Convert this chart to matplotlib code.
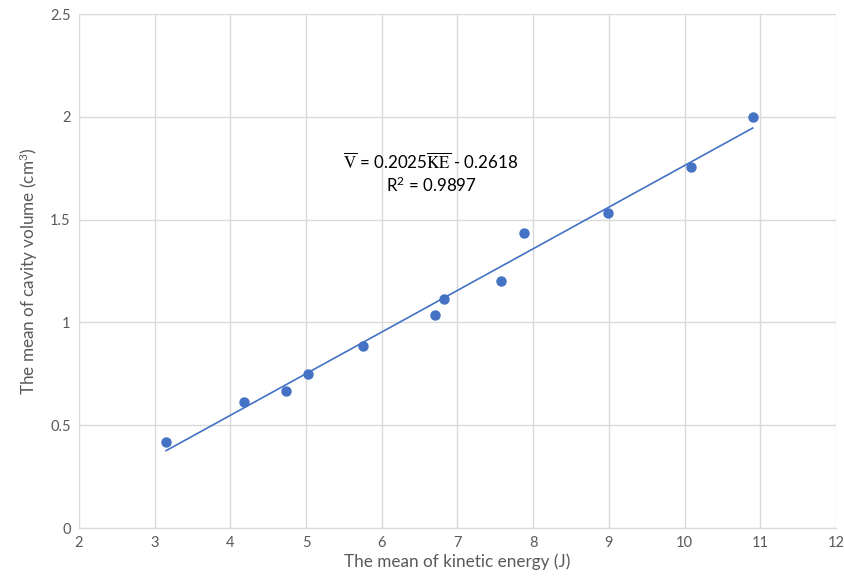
import numpy as np
import matplotlib
matplotlib.use('Agg')
import matplotlib.pyplot as plt

plt.rcParams['font.family'] = ['Lato', 'DejaVu Sans']
plt.rcParams['mathtext.fontset'] = 'stix'

# mean kinetic energy (J) and mean cavity volume (cm3)
ke = [3.15, 4.18, 4.73, 5.02, 5.75, 6.70, 6.82, 7.58, 7.88, 8.99, 10.08, 10.90]
vol = [0.418, 0.613, 0.666, 0.749, 0.885, 1.036, 1.114, 1.20, 1.435, 1.532, 1.756, 2.0]

slope = 0.2025
intercept = -0.2618
r2 = 0.9897

blue = '#4472C4'
grid = '#d9d9d9'
txt = '#595959'

fig = plt.figure(figsize=(8.44, 5.85), dpi=100)
ax = fig.add_axes([79/844, 1-528/585, (836-79)/844, (528-14)/585])

x_fit = np.array([min(ke), max(ke)])
ax.plot(x_fit, slope*x_fit + intercept, color=blue, lw=1.2, zorder=3)
ax.plot(ke, vol, 'o', color=blue, ms=6.5, zorder=4)

ax.set_xlim(2, 12)
ax.set_ylim(0, 2.5)
ax.set_xticks(range(2, 13))
ax.set_yticks([0, 0.5, 1, 1.5, 2, 2.5])
ax.set_yticklabels(['0', '0.5', '1', '1.5', '2', '2.5'])
ax.grid(True, color=grid, lw=1)
ax.set_axisbelow(True)
for s in ['top', 'right', 'left']:
    ax.spines[s].set_visible(False)
ax.spines['bottom'].set_color(grid)
ax.tick_params(length=0, colors=txt, labelsize=10.5, pad=6)

ax.set_xlabel('The mean of kinetic energy (J)', fontsize=12.3, color=txt, labelpad=2)
ax.set_ylabel(r'The mean of cavity volume (cm$\mathregular{^3}$)', fontsize=12.3, color=txt, labelpad=7)

ax.text(6.65, 1.78, r'$\overline{\mathrm{V}}$ = 0.2025$\overline{\mathrm{KE}}$ - 0.2618',
        ha='center', va='center', fontsize=12.2, color='black')
ax.text(6.65, 1.665, r'R$\mathregular{^2}$ = ' + f'{r2}', ha='center', va='center',
        fontsize=12.2, color='black')

fig.savefig('out.png', dpi=100)
